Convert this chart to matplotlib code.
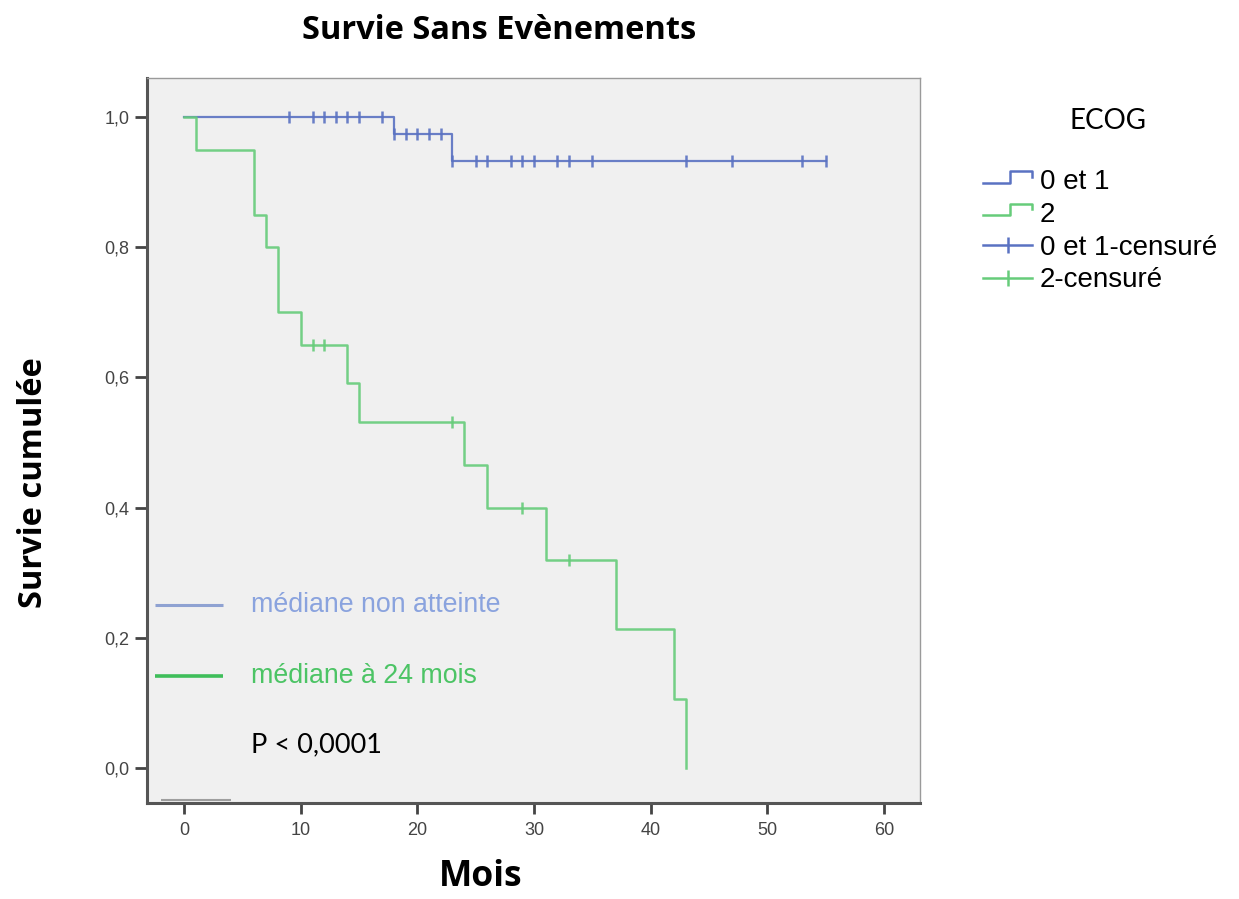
import numpy as np
import matplotlib
matplotlib.use("Agg")
import matplotlib.pyplot as plt
from matplotlib.lines import Line2D
from matplotlib.legend_handler import HandlerBase, HandlerLine2D

# Kaplan-Meier step curves (time in months, cumulative survival after each step)
times_01 = [0, 18, 23, 55]
surv_01 = [1.0, 0.974, 0.933, 0.933]
censor_01 = [9, 11, 12, 13, 14, 15, 17, 18, 19, 20, 21, 22, 23, 25, 26, 28,
             29, 30, 32, 33, 35, 43, 47, 53, 55]

times_2 = [0, 1, 6, 7, 8, 10, 14, 15, 24, 26, 31, 37, 42, 43]
surv_2 = [1.0, 0.95, 0.85, 0.80, 0.70, 0.65, 0.591, 0.532, 0.465, 0.399,
          0.319, 0.213, 0.106, 0.0]
censor_2 = [11, 12, 23, 29, 33]

x_ticks = [0, 10, 20, 30, 40, 50, 60]
y_ticks = [0.0, 0.2, 0.4, 0.6, 0.8, 1.0]
y_ticklabels = ["0,0", "0,2", "0,4", "0,6", "0,8", "1,0"]

legend_labels = ["0 et 1", "2", "0 et 1-censuré", "2-censuré"]

BLUE = "#5a72c2"
GREEN = "#66cc7a"
BLUE_TXT = "#8aa3de"
GREEN_TXT = "#4cc465"
AX_BG = "#f0f0f0"

HEAD = ["Open Sans", "DejaVu Sans"]
LIGHT = ["Lato", "DejaVu Sans"]
BODY = ["Liberation Sans", "DejaVu Sans"]


def surv_at(t, times, surv):
    idx = np.searchsorted(times, t, side="right") - 1
    return np.asarray(surv)[idx]


fig = plt.figure(figsize=(12.39, 8.99), dpi=100)
ax = fig.add_axes([0.1186, 0.1068, 0.6239, 0.8064])
ax.set_facecolor(AX_BG)

ax.step(times_01, surv_01, where="post", color=BLUE, lw=1.6, alpha=0.9, zorder=3)
ax.step(times_2, surv_2, where="post", color=GREEN, lw=1.8, alpha=0.9, zorder=3)
ax.plot(censor_01, surv_at(censor_01, times_01, surv_01), ls="none", marker="|",
        ms=9, mew=1.8, color=BLUE, alpha=0.9, zorder=4)
ax.plot(censor_2, surv_at(censor_2, times_2, surv_2), ls="none", marker="|",
        ms=9, mew=1.8, color=GREEN, alpha=0.9, zorder=4)

ax.set_xlim(-3.2, 63.1)
ax.set_ylim(-0.054, 1.06)
ax.set_xticks(x_ticks)
ax.set_xticklabels([str(v) for v in x_ticks], family=BODY, fontsize=13,
                   color="#444444")
ax.set_yticks(y_ticks)
ax.set_yticklabels(y_ticklabels, family=BODY, fontsize=13, color="#444444")
ax.tick_params(axis="x", direction="out", length=8, width=2, color="#444444", pad=6)
ax.tick_params(axis="y", direction="out", length=8.5, width=2, color="#444444", pad=4)

for side in ("left", "bottom"):
    ax.spines[side].set_color("#555555")
    ax.spines[side].set_linewidth(2.2)
for side in ("top", "right"):
    ax.spines[side].set_color("#9a9a9a")
    ax.spines[side].set_linewidth(1.0)

# median annotations
ax.plot([-2.5, 3.3], [0.25, 0.25], color="#8fa2d2", lw=2.2, solid_capstyle="butt")
ax.text(5.7, 0.25, "médiane non atteinte", color=BLUE_TXT, family=BODY,
        fontsize=19.3, va="center", ha="left")
ax.plot([-2.5, 3.3], [0.141, 0.141], color="#3fbe5a", lw=2.6, solid_capstyle="butt")
ax.text(5.7, 0.141, "médiane à 24 mois", color=GREEN_TXT, family=BODY,
        fontsize=19.3, va="center", ha="left")
ax.text(5.7, 0.036, "P < 0,0001", color="black", family=LIGHT, fontsize=19.5,
        va="center", ha="left")
ax.plot([-2.0, 4.0], [-0.049, -0.049], color="#8a8a8a", lw=1.5, alpha=0.8,
        solid_capstyle="butt")

fig.text(0.4027, 0.966, "Survie Sans Evènements", family=HEAD, fontweight="bold",
         fontsize=23.5, ha="center", va="center")
fig.text(0.388, 0.024, "Mois", family=HEAD, fontweight="bold", fontsize=25.5,
         ha="center", va="center")
fig.text(0.027, 0.4627, "Survie cumulée", family=HEAD, fontweight="bold",
         fontsize=23.5, rotation=90, ha="center", va="center")


class StepHandler(HandlerBase):
    def create_artists(self, legend, orig_handle, xdescent, ydescent, width,
                       height, fontsize, trans):
        x0 = -xdescent
        lo = -ydescent + 0.35 * height
        hi = -ydescent + 0.95 * height
        xs = [x0, x0 + 0.55 * width, x0 + 0.55 * width, x0 + width, x0 + width]
        ys = [lo, lo, hi, hi, hi - 0.3 * height]
        line = Line2D(xs, ys, color=orig_handle.get_color(),
                      lw=orig_handle.get_linewidth())
        line.set_transform(trans)
        return [line]


h_step_01 = Line2D([], [], color=BLUE, lw=1.8)
h_step_2 = Line2D([], [], color=GREEN, lw=1.8)
h_cens_01 = Line2D([], [], color=BLUE, lw=1.8, marker="|", ms=12, mew=1.8)
h_cens_2 = Line2D([], [], color=GREEN, lw=1.8, marker="|", ms=12, mew=1.8)

fig.text(0.894, 0.8654, "ECOG", family=LIGHT, fontsize=20, ha="center",
         va="center")
fig.legend([h_step_01, h_step_2, h_cens_01, h_cens_2], legend_labels,
           handler_map={h_step_01: StepHandler(), h_step_2: StepHandler(),
                        h_cens_01: HandlerLine2D(numpoints=1),
                        h_cens_2: HandlerLine2D(numpoints=1)},
           loc="upper left", bbox_to_anchor=(0.7845, 0.824), frameon=False,
           prop={"family": BODY, "size": 20}, handlelength=1.76,
           handletextpad=0.29, labelspacing=0.24, borderaxespad=0.0)

fig.savefig("out.png", dpi=100, facecolor="white")
